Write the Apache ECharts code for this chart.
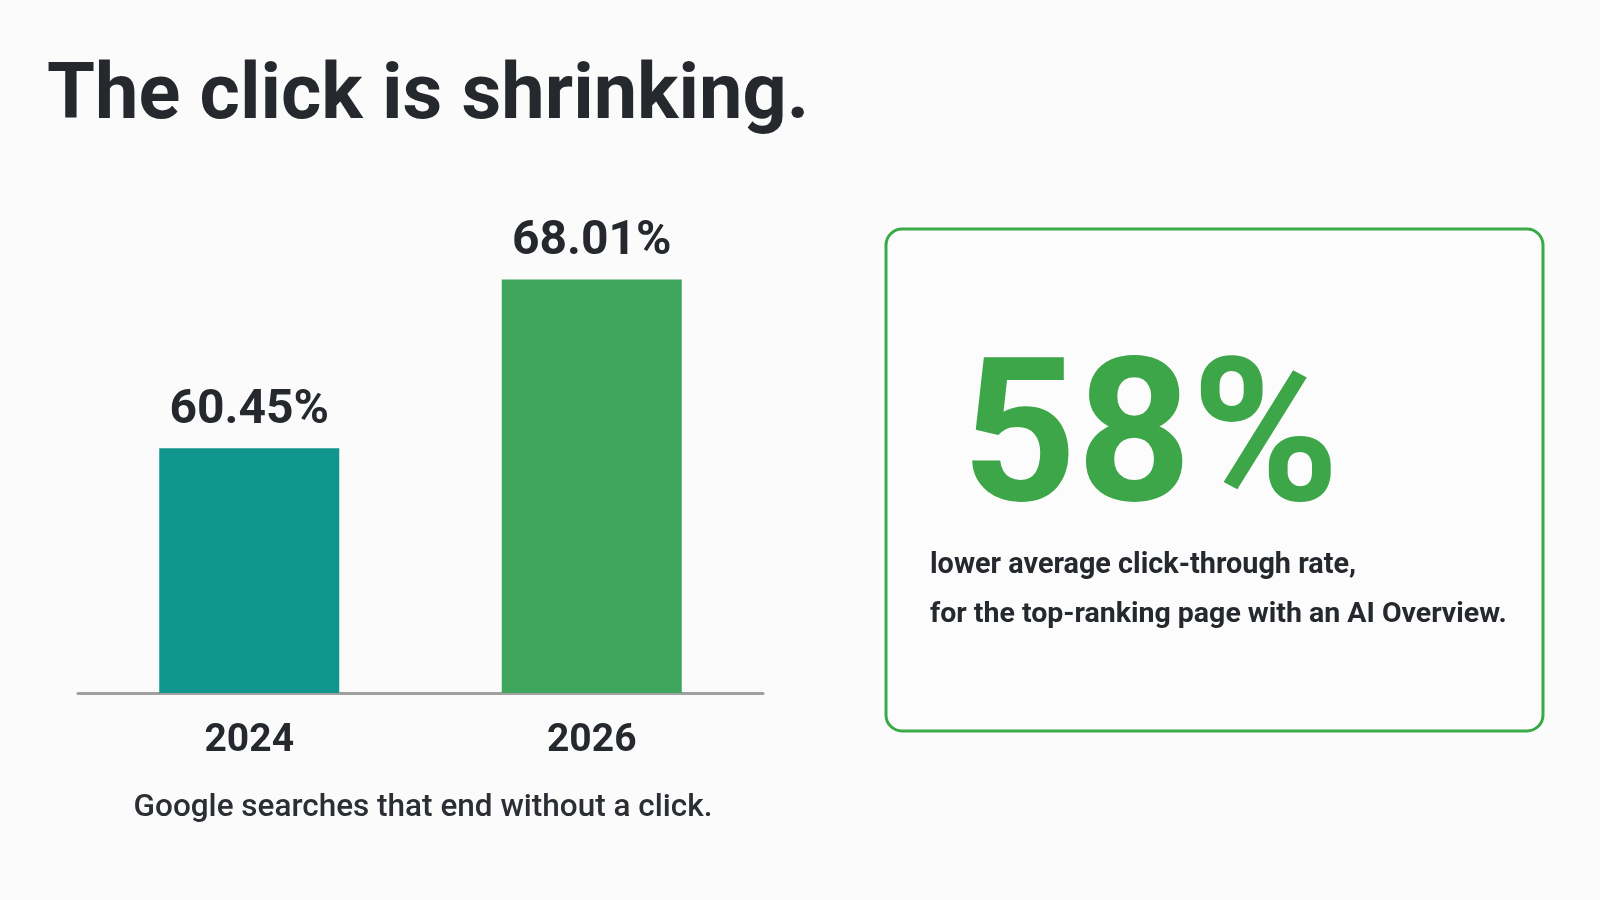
<!DOCTYPE html>
<html>
<head>
<meta charset="utf-8">
<script src="https://cdn.jsdelivr.net/npm/echarts@6/dist/echarts.min.js"></script>
<style>
  html, body { margin: 0; padding: 0; background: #fbfbfb; }
  #chart { width: 1600px; height: 900px; }
</style>
</head>
<body>
<div id="chart"></div>
<script>
// ---- data ----
const titleText = 'The click is shrinking.';
const categories = ['2024', '2026'];
const values = [60.45, 68.01];
const valueLabels = ['60.45%', '68.01%'];
const subtitleText = 'Google searches that end without a click.';
const statValue = '58%';
const statLines = ['lower average click-through rate,', 'for the top-ranking page with an AI Overview.'];

// ---- styles ----
const barPalette = ['#10968d', '#3ea65c'];
const darkText = '#25282d';
const green = '#3ca648';
const FONT = 'Roboto, "Noto Sans", sans-serif';

const chart = echarts.init(document.getElementById('chart'), null, { renderer: 'canvas' });

const option = {
  backgroundColor: '#fbfbfb',
  animation: false,
  grid: { left: 78, right: 837, top: 235, bottom: 207, containLabel: false },
  xAxis: {
    type: 'category',
    data: categories,
    axisLine: { show: true, lineStyle: { color: '#a0a0a0', width: 3 } },
    axisTick: { show: false },
    axisLabel: {
      margin: 29,
      fontFamily: FONT,
      fontSize: 39,
      fontWeight: 'bold',
      color: darkText
    }
  },
  yAxis: {
    type: 'value',
    min: 49.5,
    max: 70,
    show: false,
    splitLine: { show: false }
  },
  series: [{
    type: 'bar',
    data: values.map((v, i) => ({ value: v, itemStyle: { color: barPalette[i] } })),
    barWidth: 180,
    label: {
      show: true,
      position: 'top',
      distance: 13,
      fontFamily: FONT,
      fontSize: 48,
      fontWeight: 'bold',
      color: darkText,
      formatter: p => valueLabels[p.dataIndex]
    }
  }],
  graphic: [
    {
      type: 'text',
      left: 47,
      top: 60,
      style: {
        text: titleText,
        font: 'bold 77.5px ' + FONT,
        fill: darkText
      }
    },
    {
      type: 'text',
      x: 423,
      y: 808,
      style: {
        text: subtitleText,
        font: '500 31.5px ' + FONT,
        fill: '#2b2e33',
        textAlign: 'center',
        textVerticalAlign: 'middle'
      }
    },
    {
      type: 'rect',
      shape: { x: 886, y: 229, width: 657, height: 502, r: 16 },
      style: { fill: 'rgba(255,255,255,0.4)', stroke: '#3aa948', lineWidth: 3 }
    },
    {
      type: 'text',
      x: 962,
      y: 450,
      style: {
        text: statValue,
        font: 'bold 200px ' + FONT,
        fill: green,
        textAlign: 'left',
        textVerticalAlign: 'middle'
      }
    },
    {
      type: 'text',
      x: 930,
      y: 566,
      style: {
        text: statLines[0],
        font: 'bold 28.8px ' + FONT,
        fill: darkText,
        textAlign: 'left',
        textVerticalAlign: 'middle'
      }
    },
    {
      type: 'text',
      x: 930,
      y: 615,
      style: {
        text: statLines[1],
        font: 'bold 28.5px ' + FONT,
        fill: darkText,
        textAlign: 'left',
        textVerticalAlign: 'middle'
      }
    }
  ]
};

chart.setOption(option);
</script>
</body>
</html>
